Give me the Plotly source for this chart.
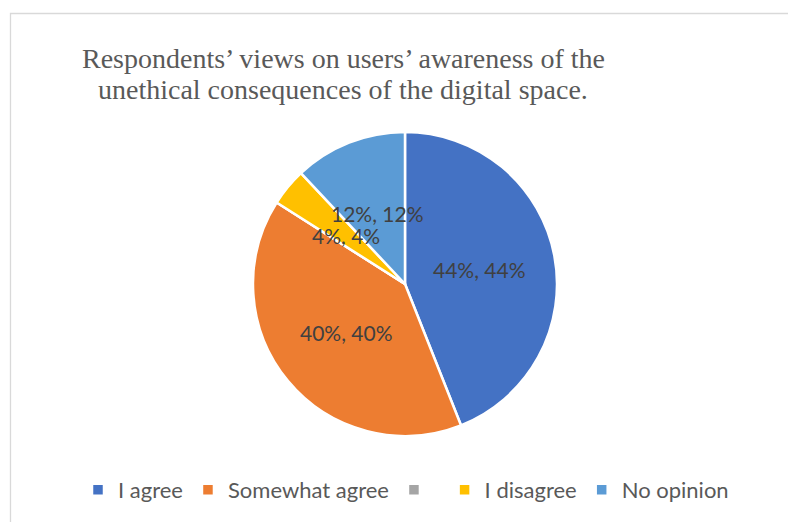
import math
import plotly.graph_objects as go

# Survey answers (percent of respondents)
categories = ["I agree", "Somewhat agree", " ", "I disagree", "No opinion"]
values = [44, 40, 0, 4, 12]
colors = ["#4472C4", "#ED7D31", "#A5A5A5", "#FFC000", "#5B9BD5"]

title_lines = [
    "Respondents\u2019 views on users\u2019 awareness of the",
    "unethical consequences of the digital space.",
]

W, H = 788, 522
cx_px, cy_px, r_px = 405, 284, 152  # pie centre / radius in page pixels

dom_x = [(cx_px - r_px) / W, (cx_px + r_px) / W]
dom_y = [(H - cy_px - r_px) / H, (H - cy_px + r_px) / H]

fig = go.Figure()
fig.add_trace(go.Pie(
    labels=categories,
    values=values,
    marker=dict(colors=colors, line=dict(color="white", width=2.5)),
    sort=False,
    direction="clockwise",
    rotation=0,
    textinfo="none",
    hoverinfo="label+value+percent",
    domain=dict(x=dom_x, y=dom_y),
    showlegend=True,
))

# Data labels: "value%, percent" placed half-way out along each slice's mid-angle
total = sum(values)
annotations = []
acc = 0
for v in values:
    if v > 0:
        mid = (acc + v / 2) / total * 2 * math.pi
        dx = 0.5 * r_px * math.sin(mid)
        dy = 0.5 * r_px * math.cos(mid)
        annotations.append(dict(
            x=(cx_px + dx) / W, y=(H - cy_px + dy) / H,
            xref="paper", yref="paper",
            text=f"{v}%, {round(v / total * 100)}%",
            showarrow=False,
            font=dict(family="Lato, sans-serif", size=21, color="#404040"),
            xanchor="center", yanchor="middle",
        ))
    acc += v

# Two-line chart title
title_font = dict(family="Liberation Serif, Times New Roman, serif", size=28, color="#595959")
for line, y_px in zip(title_lines, [58, 89]):
    annotations.append(dict(
        x=343 / W, y=1 - y_px / H, xref="paper", yref="paper",
        text=line, showarrow=False, font=title_font,
        xanchor="center", yanchor="middle",
    ))

fig.update_layout(
    width=W, height=H,
    margin=dict(l=0, r=0, t=0, b=0),
    paper_bgcolor="white",
    plot_bgcolor="white",
    legend=dict(
        orientation="h",
        x=78 / W, xanchor="left",
        y=1 - 490 / H, yanchor="middle",
        font=dict(family="Lato, sans-serif", size=22, color="#595959"),
        traceorder="normal",
        itemclick=False,
    ),
    annotations=annotations,
    shapes=[dict(
        type="rect", xref="paper", yref="paper",
        x0=10.5 / W, x1=1.02, y0=-0.02, y1=1 - 13.5 / H,
        line=dict(color="#D9D9D9", width=1.3),
        fillcolor="rgba(0,0,0,0)",
        layer="below",
    )],
)

fig.write_html("out.html")
